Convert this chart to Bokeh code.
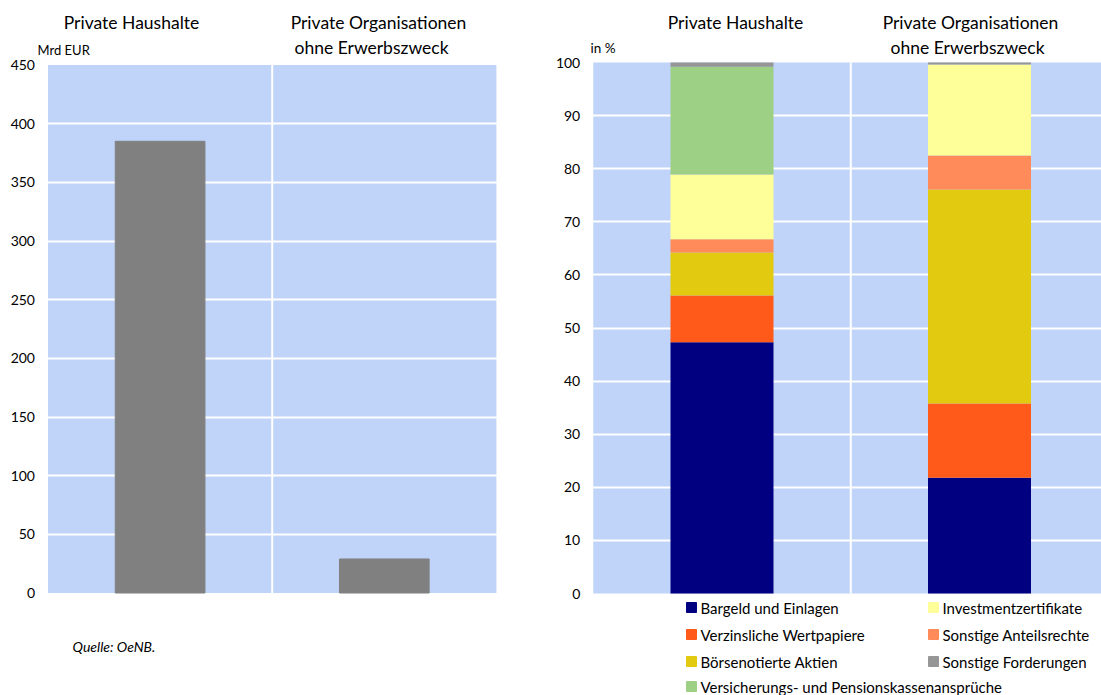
from bokeh.plotting import figure
from bokeh.models import (ColumnDataSource, Range1d, SingleIntervalTicker,
                          BoxAnnotation)
from bokeh.layouts import row
from bokeh.core.properties import value
from bokeh.embed import file_html
from bokeh.resources import INLINE

# --- data -------------------------------------------------------------------
sectors = ["Private Haushalte", "Private Organisationen ohne Erwerbszweck"]

# Geldvermögen in Mrd EUR
volume_bn_eur = [385, 29]

# Struktur des Geldvermögens in %
instruments = [
    "Bargeld und Einlagen",
    "Verzinsliche Wertpapiere",
    "Börsenotierte Aktien",
    "Sonstige Anteilsrechte",
    "Investmentzertifikate",
    "Versicherungs- und Pensionskassenansprüche",
    "Sonstige Forderungen",
]
share_households = [47.3, 8.8, 8.1, 2.5, 12.2, 20.3, 0.8]
share_npish = [21.8, 14.0, 40.3, 6.4, 17.1, 0.0, 0.4]
instrument_colors = ["#000080", "#FF5A19", "#E2CA10", "#FF8A5A",
                     "#FFFF99", "#9DCF85", "#969696"]
# legend reading order: first column top-down, then second column
legend_order = [0, 1, 2, 5, 4, 3, 6]

# --- styling ----------------------------------------------------------------
FONT = "Lato"
PANEL_BG = "#C0D3F8"
BAR_GREY = "#808080"
HEIGHT = 695


class Canvas:
    """Maps canvas pixels of a figure to its data space.

    The frame covers the whole canvas; the chart panel is the region
    [0, n_categories] x [0, y_max] placed at the given pixel box.
    """

    def __init__(self, width, px_left, px_per_cat, px_bottom, px_per_unit):
        self.width = width
        self.px_left = px_left
        self.px_per_cat = px_per_cat
        self.px_bottom = px_bottom
        self.px_per_unit = px_per_unit

    def x(self, px):
        return (px - self.px_left) / self.px_per_cat

    def y(self, py):
        return (self.px_bottom - py) / self.px_per_unit

    def x_range(self):
        return Range1d(self.x(0), self.x(self.width))

    def y_range(self):
        return Range1d(self.y(HEIGHT), self.y(0))


def make_panel(cv, y_max, interval):
    p = figure(width=cv.width, height=HEIGHT, x_range=cv.x_range(),
               y_range=cv.y_range(), toolbar_location=None,
               output_backend="svg", min_border=0, min_border_left=0,
               min_border_right=0, min_border_top=0, min_border_bottom=0)
    p.outline_line_color = None
    p.background_fill_color = "white"
    p.border_fill_color = "white"
    p.xaxis.visible = False
    p.xgrid.visible = False

    ax = p.yaxis[0]
    ax.fixed_location = 0
    ax.bounds = (0, y_max)
    ax.ticker = SingleIntervalTicker(interval=interval, num_minor_ticks=0)
    ax.axis_line_color = None
    ax.major_tick_line_color = None
    ax.minor_tick_line_color = None
    ax.major_tick_out = 0
    ax.major_tick_in = 0
    ax.minor_tick_out = 0
    ax.minor_tick_in = 0
    ax.major_label_text_font = FONT
    ax.major_label_text_font_size = "14px"
    ax.major_label_text_color = "#000000"
    ax.major_label_standoff = 13

    p.ygrid.bounds = (interval / 2, y_max - interval / 2)
    p.ygrid.grid_line_color = "white"
    p.ygrid.grid_line_width = 2

    n = len(sectors)
    p.add_layout(BoxAnnotation(left=0, right=n, bottom=0, top=y_max,
                               fill_color=PANEL_BG, fill_alpha=1,
                               line_color=None, level="image"))
    # white separators between the sectors, limited to the panel
    seps = list(range(1, n))
    p.segment(x0=seps, y0=[0] * len(seps), x1=seps, y1=[y_max] * len(seps),
              line_color="white", line_width=2)
    return p


def add_text(p, cv, items, size, align="left", style="normal"):
    # items: (px, py, text) in canvas pixels
    src = ColumnDataSource(dict(x=[cv.x(a) for a, _, _ in items],
                                y=[cv.y(b) for _, b, _ in items],
                                text=[t for _, _, t in items]))
    p.text(x="x", y="y", text="text", source=src, text_font=value(FONT),
           text_font_size=size, text_font_style=style, text_color="#000000",
           text_align=align, text_baseline="middle")


cat_x = [i + 0.5 for i in range(len(sectors))]

# --- left: volume -----------------------------------------------------------
cv_l = Canvas(width=550, px_left=47.5, px_per_cat=224.2,
              px_bottom=592.5, px_per_unit=528 / 450)
left = make_panel(cv_l, 450, 50)
left.vbar(x=cat_x, top=volume_bn_eur, bottom=0, width=0.4, color=BAR_GREY)
add_text(left, cv_l, [(131, 22, "Private Haushalte"),
                      (378, 22, "Private Organisationen"),
                      (371, 47, "ohne Erwerbszweck")], "17.5px",
         align="center")
add_text(left, cv_l, [(37, 49, "Mrd EUR")], "13px")
add_text(left, cv_l, [(72, 646, "Quelle: OeNB.")], "14px", style="italic")

# --- right: structure -------------------------------------------------------
keys = [f"s{i}" for i in range(len(instruments))]
stack_data = {"x": cat_x}
for k, a, b in zip(keys, share_households, share_npish):
    stack_data[k] = [a, b]
src = ColumnDataSource(stack_data)

cv_r = Canvas(width=551, px_left=42.75, px_per_cat=257.5,
              px_bottom=593, px_per_unit=5.31)
right = make_panel(cv_r, 100, 10)
right.vbar_stack(keys, x="x", width=0.4, source=src,
                 color=instrument_colors, line_color=None)
add_text(right, cv_r, [(185, 22, "Private Haushalte"),
                       (420, 22, "Private Organisationen"),
                       (417, 47, "ohne Erwerbszweck")], "17.5px",
         align="center")
add_text(right, cv_r, [(40, 47, "in %")], "13.5px")

# legend below the stacked bars: two columns, four rows
col_px = [(141, 150), (383, 392)]
row_py = [607, 634, 661, 686]
lx, ly, tx, lt, lc = [], [], [], [], []
for pos, idx in enumerate(legend_order):
    c, r = (0, pos) if pos < 4 else (1, pos - 4)
    lx.append(cv_r.x(col_px[c][0]))
    tx.append(cv_r.x(col_px[c][1]))
    ly.append(cv_r.y(row_py[r]))
    lt.append(instruments[idx])
    lc.append(instrument_colors[idx])
leg_src = ColumnDataSource(dict(x=lx, y=ly, tx=tx, text=lt, color=lc))
right.rect(x="x", y="y", width=10, height=10, width_units="screen",
           height_units="screen", color="color", source=leg_src)
right.text(x="tx", y="y", text="text", source=leg_src, text_font=value(FONT),
           text_font_size="15px", text_color="#000000",
           text_baseline="middle")

layout = row(left, right)

open("out.html", "w").write(file_html(layout, INLINE))
